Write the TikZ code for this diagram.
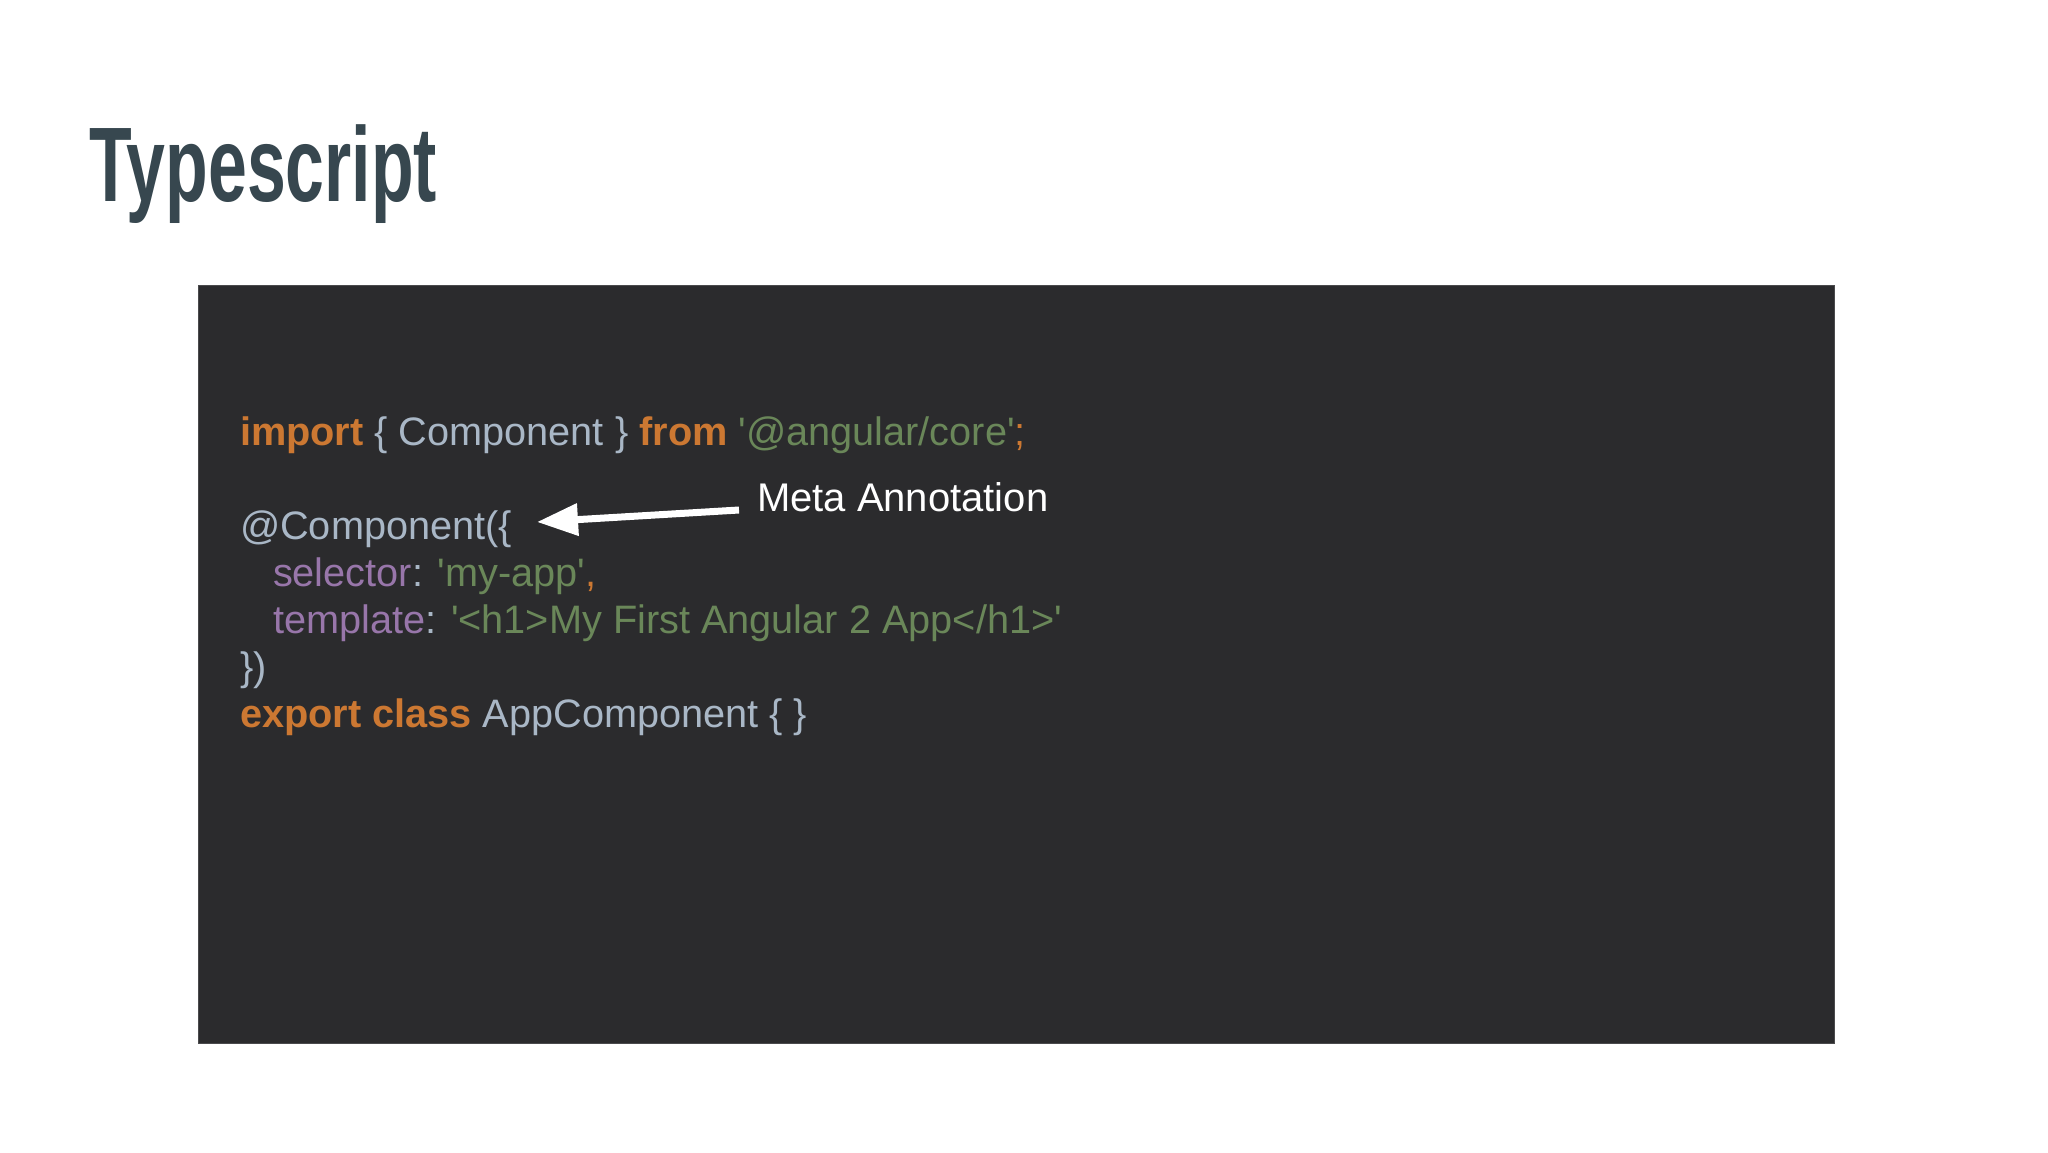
\documentclass[tikz,border=0pt]{standalone}
\usepackage{fontspec}
\usepackage{graphicx}
\setmainfont{Liberation Sans}[Ligatures=TeXOff]
\usetikzlibrary{arrows.meta}
\definecolor{kw}{HTML}{CC7832}
\definecolor{str}{HTML}{6A8759}
\definecolor{prop}{HTML}{9876AA}
\definecolor{plain}{HTML}{A9B7C6}
\definecolor{panel}{HTML}{2B2B2D}
\definecolor{paneledge}{HTML}{4A4A4C}
\definecolor{titlecol}{HTML}{37474F}
\begin{document}
\begin{tikzpicture}[x=1pt,y=-1pt,
  codeline/.style={anchor=base west, inner sep=0pt, outer sep=0pt, text=plain, font=\fontsize{39.7}{47}\selectfont},
  notetext/.style={anchor=base west, inner sep=0pt, outer sep=0pt, text=white, font=\fontsize{40}{47}\selectfont},
  pointer/.style={draw=white, line width=7pt, -{Triangle[length=41pt,width=31pt]}}]
\useasboundingbox (0,0) rectangle (2048,1152);
\fill[white] (0,0) rectangle (2048,1152);
\node[anchor=base west, inner sep=0pt, text=titlecol] (title) at (89,201)
  {\scalebox{0.665}[1.01]{\fontsize{105}{110}\selectfont\bfseries Typescript}};
\node[fill=panel, draw=paneledge, line width=1.2pt, inner sep=0pt, minimum width=1636pt, minimum height=758pt, anchor=north west] (panel) at (198,285) {};
\node[codeline] (l1) at (240,445) {\textcolor{kw}{\bfseries import} \{ Component \} \textcolor{kw}{\bfseries from} \textcolor{str}{'@angular/core'}\textcolor{kw}{;}};
\node[codeline] (l2) at (240,539) {@Component(\{};
\node[codeline] (l3) at (273,586) {\textcolor{prop}{selector}: \textcolor{str}{'my-app'}\textcolor{kw}{,}};
\node[codeline] (l4) at (273,633) {\textcolor{prop}{template}: \textcolor{str}{'<h1>My First Angular 2 App</h1>'}};
\node[codeline] (l5) at (240,680) {\})};
\node[codeline] (l6) at (240,727) {\textcolor{kw}{\bfseries export class} AppComponent \{ \}};
\node[notetext] (meta) at (757,511) {Meta Annotation};
\coordinate (atail) at (739,510);
\coordinate (ahead) at (537,522);
\draw[pointer] (atail) -- (ahead);
\end{tikzpicture}
\end{document}
